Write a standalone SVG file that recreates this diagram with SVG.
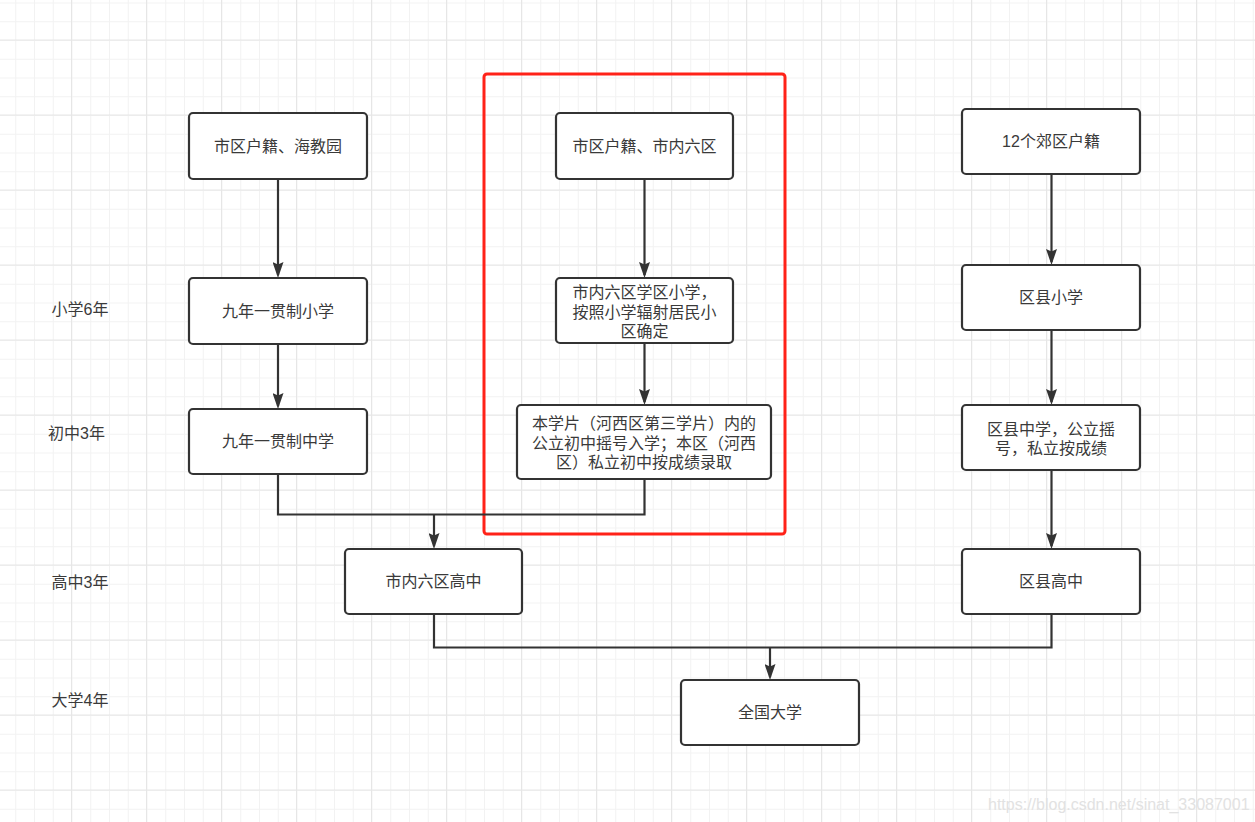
<svg xmlns="http://www.w3.org/2000/svg" width="1255" height="822" viewBox="0 0 1255 822">
<style>
.node rect{fill:#fff;stroke:#333;stroke-width:2.2}
.node text,.lbl{font-family:"Liberation Sans","Noto Sans CJK SC",sans-serif;font-size:16px;fill:#3a3a3a;text-anchor:middle;dominant-baseline:central}
.conn path{fill:none;stroke:#333;stroke-width:2.2}
.arr{marker-end:url(#ah)}
</style>
<defs>
<pattern id="minor" width="18.75" height="18.75" x="15.25" y="2.5" patternUnits="userSpaceOnUse">
<path d="M0,0.5 H18.75 M0.5,0 V18.75" fill="none" stroke="#f2f2f2" stroke-width="1"/>
</pattern>
<pattern id="major" width="75" height="75" x="71" y="39.5" patternUnits="userSpaceOnUse">
<path d="M0,0.5 H75 M0.5,0 V75" fill="none" stroke="#e6e6e6" stroke-width="1"/>
</pattern>
<marker id="ah" viewBox="0 0 16 11" refX="13" refY="5.5" markerWidth="16" markerHeight="11" markerUnits="userSpaceOnUse" orient="auto">
<path d="M0,0 L16,5.5 L0,11 L2.5,5.5 z" fill="#333"/>
</marker>
</defs>
<rect width="1255" height="822" fill="#fff"/>
<rect width="1255" height="822" fill="url(#minor)"/>
<rect width="1255" height="822" fill="url(#major)"/>

<rect id="highlight" x="484" y="74" width="301" height="460" rx="3" fill="none" stroke="#ff2218" stroke-width="3"/>

<g id="connectors" class="conn">
<path class="arr" d="M278,179 V275"/>
<path class="arr" d="M278,344 V406"/>
<path class="arr" d="M644.5,179 V275"/>
<path class="arr" d="M644.5,343 V402"/>
<path class="arr" d="M1051.5,174 V262"/>
<path class="arr" d="M1051.5,330 V402"/>
<path class="arr" d="M1051.5,470 V546"/>
<path d="M278,474 V514.5 H644.5 V479"/>
<path class="arr" d="M434,514.5 V546"/>
<path d="M434,614 V647.5 H1051.5 V614"/>
<path class="arr" d="M770,647.5 V677"/>
</g>

<g id="n1" class="node"><rect x="189" y="113" width="178" height="66" rx="4"/><text x="278" y="146">市区户籍、海教园</text></g>
<g id="n2" class="node"><rect x="189" y="278" width="178" height="66" rx="4"/><text x="278" y="311">九年一贯制小学</text></g>
<g id="n3" class="node"><rect x="189" y="409" width="178" height="65" rx="4"/><text x="278" y="441.5">九年一贯制中学</text></g>

<g id="m1" class="node"><rect x="556" y="113" width="177" height="66" rx="4"/><text x="644.5" y="146">市区户籍、市内六区</text></g>
<g id="m2" class="node"><rect x="556" y="278" width="177" height="65" rx="4"/><text x="644.5" y="292"><tspan x="644.5">市内六区学区小学，</tspan><tspan x="644.5" dy="19.5">按照小学辐射居民小</tspan><tspan x="644.5" dy="19.5">区确定</tspan></text></g>
<g id="m3" class="node"><rect x="517" y="405" width="254" height="74" rx="4"/><text x="644" y="423"><tspan x="644">本学片（河西区第三学片）内的</tspan><tspan x="644" dy="19.5">公立初中摇号入学；本区（河西</tspan><tspan x="644" dy="19.5">区）私立初中按成绩录取</tspan></text></g>

<g id="r1" class="node"><rect x="962" y="109" width="178" height="65" rx="4"/><text x="1051" y="141.5">12个郊区户籍</text></g>
<g id="r2" class="node"><rect x="962" y="265" width="178" height="65" rx="4"/><text x="1051" y="297.5">区县小学</text></g>
<g id="r3" class="node"><rect x="962" y="405" width="178" height="65" rx="4"/><text x="1051" y="428.5"><tspan x="1051">区县中学，公立摇</tspan><tspan x="1051" dy="19.5">号，私立按成绩</tspan></text></g>
<g id="r4" class="node"><rect x="962" y="549" width="178" height="65" rx="4"/><text x="1051" y="581.5">区县高中</text></g>

<g id="h1" class="node"><rect x="345" y="549" width="177" height="65" rx="4"/><text x="433.5" y="581.5">市内六区高中</text></g>
<g id="u1" class="node"><rect x="681" y="680" width="178" height="65" rx="4"/><text x="770" y="712.5">全国大学</text></g>

<g id="labels">
<text class="lbl" x="80" y="309">小学6年</text>
<text class="lbl" x="76.5" y="433.5">初中3年</text>
<text class="lbl" x="80" y="582">高中3年</text>
<text class="lbl" x="80" y="700">大学4年</text>
</g>

<text x="988" y="810" font-family="Liberation Sans, Arial, sans-serif" font-size="16" fill="#e2e2e2">https://blog.csdn.net/sinat_33087001</text>
</svg>
